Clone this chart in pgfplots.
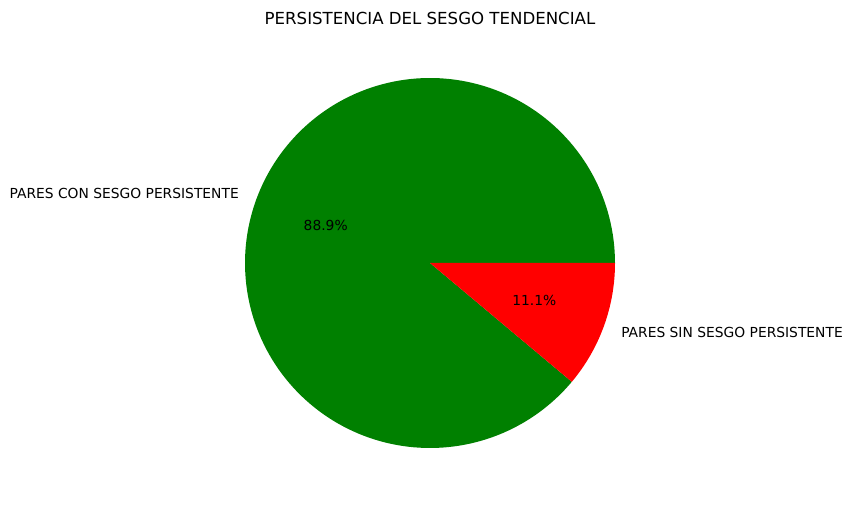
\documentclass[border=0pt]{standalone}
\usepackage{pgfplots}
\pgfplotsset{compat=1.18}
\usepackage{fontspec}
\setmainfont{DejaVu Sans}
\definecolor{pgreen}{HTML}{008000}
\definecolor{pred}{HTML}{FF0000}
\tikzset{lbl/.style={inner sep=0pt, outer sep=0pt, font=\fontsize{10}{12}\selectfont}}
\begin{document}
\begin{tikzpicture}
% shares of the two groups (percent)
\pgfmathsetmacro{\pcon}{88.9}
\pgfmathsetmacro{\psin}{11.1}
\pgfmathsetmacro{\acon}{\pcon/(\pcon+\psin)*360}
\pgfmathsetmacro{\mcon}{\acon/2}
\pgfmathsetmacro{\msin}{(\acon+360)/2}
\begin{axis}[
  x=1.85in, y=1.85in,
  scale only axis, hide axis, clip=false,
  xmin=-2.3243, xmax=2.2811,
  ymin=-1.3027, ymax=1.4216,
]
  % wedges, counter-clockwise from 0 degrees
  \addplot[fill=pgreen, draw=none, domain=0:\acon, samples=181]
    ({cos(x)}, {sin(x)}) -- (axis cs:0,0) -- cycle;
  \addplot[fill=pred, draw=none, domain=\acon:360, samples=41]
    ({cos(x)}, {sin(x)}) -- (axis cs:0,0) -- cycle;

  % labels
  \node[lbl, anchor=east]
    at (axis cs:{1.1*cos(\mcon)},{1.1*sin(\mcon)}) {PARES CON SESGO PERSISTENTE};
  \node[lbl, anchor=west]
    at (axis cs:{1.1*cos(\msin)},{1.1*sin(\msin)}) {PARES SIN SESGO PERSISTENTE};
  \node[lbl]
    at (axis cs:{0.6*cos(\mcon)},{0.6*sin(\mcon)}) {88.9\%};
  \node[lbl]
    at (axis cs:{0.6*cos(\msin)},{0.6*sin(\msin)}) {11.1\%};

  % title
  \node[inner sep=0pt, font=\fontsize{12}{14}\selectfont] at (axis cs:0,1.324)
    {PERSISTENCIA DEL SESGO TENDENCIAL};

  \path (rel axis cs:0,0) rectangle (rel axis cs:1,1);
\end{axis}
\end{tikzpicture}
\end{document}
